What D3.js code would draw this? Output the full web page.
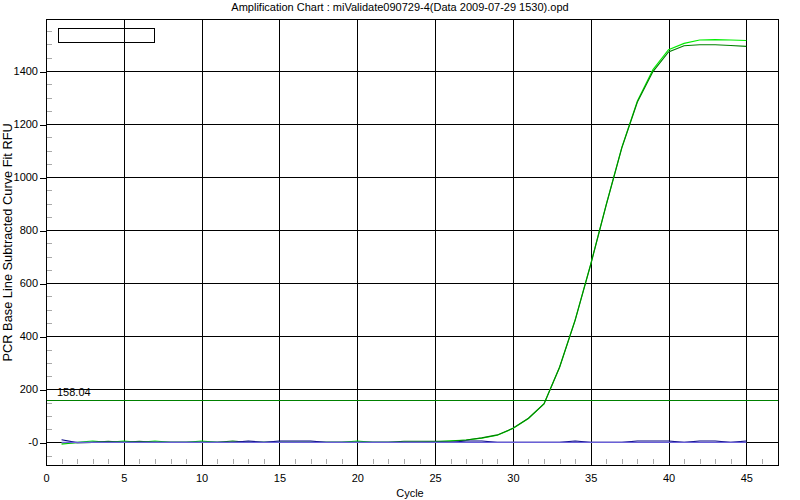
<!DOCTYPE html>
<html><head><meta charset="utf-8">
<script src="https://cdn.jsdelivr.net/npm/d3@7"></script>
<style>
body{margin:0;background:#fff}
svg text{font-family:"Liberation Sans",Arial,sans-serif;fill:#000}
</style></head>
<body><svg id="c" width="800" height="500"></svg>
<script>
const title = "Amplification Chart : miValidate090729-4(Data 2009-07-29 1530).opd";
const xLabel = "Cycle";
const yLabel = "PCR Base Line Subtracted Curve Fit RFU";
const cycles = d3.range(1, 46);
const xTicks = [0, 5, 10, 15, 20, 25, 30, 35, 40, 45];
const yTicks = [0, 200, 400, 600, 800, 1000, 1200, 1400];
const threshold = 158.04;
const lightGreen = [-7,0,5,0,5,0,5,0,0,5,0,0,0,0,0,0,0,0,0,5,0,0,0,0,2,6,9,16,27,52,90,146,283,462,672,897,1112,1287,1405,1480,1504,1517,1518,1517,1515];
const darkGreen  = [-2,-1,0,4,0,4,0,0,0,0,0,5,0,0,0,0,0,0,0,0,0,0,4,4,4,4,9,17,28,53,91,145,283,460,670,895,1110,1283,1398,1472,1495,1499,1499,1496,1493];
const navy       = [10,-1,0,0,0,0,0,0,0,0,0,0,5,0,5,5,5,0,0,0,0,0,0,0,0,0,5,5,0,0,0,0,0,5,0,0,0,5,5,5,0,5,5,0,5];
const slate      = [0,0,0,0,0,0,0,0,0,0,0,0,0,0,0,0,0,0,0,0,0,0,0,0,0,0,0,0,0,0,0,0,0,0,0,0,0,0,0,0,0,0,0,0,0];

const L = 46, R = 778.7, T = 19, B = 465.7;
const svg = d3.select("#c");
const x = d3.scaleLinear().domain([0, 47.08]).range([L, R]);
const y = d3.scaleLinear().domain([-88, 1596]).range([B, T]);

svg.append("rect").attr("width", 800).attr("height", 500).attr("fill", "#fff");

// title
svg.append("text").attr("x", 400).attr("y", 11).attr("text-anchor", "middle")
  .attr("font-size", 11).text(title);

// minor ticks (gray, inside)
const g = svg.append("g").attr("shape-rendering", "crispEdges");
g.selectAll(".ymin").data(d3.range(-50, 1596, 50).filter(v => v % 200 !== 0))
  .join("line").attr("x1", L + 1).attr("x2", L + 6)
  .attr("y1", d => Math.round(y(d)) + 0.5).attr("y2", d => Math.round(y(d)) + 0.5)
  .attr("stroke", "#aaa");
g.selectAll(".xmin").data(d3.range(1, 47).filter(c => c % 5 !== 0))
  .join("line").attr("y1", B - 7).attr("y2", B - 2)
  .attr("x1", d => Math.round(x(d)) + 0.5).attr("x2", d => Math.round(x(d)) + 0.5)
  .attr("stroke", "#aaa");

// gridlines
g.selectAll(".vg").data(xTicks.filter(d => d > 0)).join("line")
  .attr("x1", d => Math.round(x(d)) + 0.5).attr("x2", d => Math.round(x(d)) + 0.5)
  .attr("y1", T).attr("y2", B).attr("stroke", "#000");
g.selectAll(".hg").data(yTicks).join("line")
  .attr("y1", d => Math.round(y(d)) + 0.5).attr("y2", d => Math.round(y(d)) + 0.5)
  .attr("x1", L).attr("x2", R).attr("stroke", "#000");

// axes
const ya = svg.append("g").attr("transform", `translate(${L},0)`)
  .call(d3.axisLeft(y).tickValues(yTicks).tickSize(6).tickPadding(2)
    .tickFormat(d => d === 0 ? "-0" : d));
ya.select(".domain").remove();
ya.selectAll("line").attr("shape-rendering", "crispEdges")
  .attr("transform", function(d){ return `translate(0,${Math.round(y(d)) + 0.5 - y(d)})`; });
ya.selectAll("text").attr("font-size", 11).attr("font-family", null);

const xa = svg.append("g").attr("transform", `translate(0,${B})`)
  .call(d3.axisBottom(x).tickValues(xTicks).tickSize(0).tickPadding(9).tickFormat(d3.format("d")));
xa.select(".domain").remove();
xa.selectAll("text").attr("font-size", 11).attr("font-family", null);

// threshold
svg.append("line").attr("x1", L).attr("x2", R)
  .attr("y1", Math.round(y(threshold)) + 0.5).attr("y2", Math.round(y(threshold)) + 0.5)
  .attr("stroke", "#008000").attr("shape-rendering", "crispEdges");
svg.append("text").attr("x", 57).attr("y", y(threshold) - 4).attr("font-size", 11)
  .text(d3.format(".2f")(threshold));

// series
const line = d3.line().x((d, i) => x(cycles[i])).y(d => y(d));
const series = [
  {v: lightGreen, c: "#00ee00"},
  {v: darkGreen, c: "#008000"},
  {v: navy, c: "#000080"},
  {v: slate, c: "#6a5fd8"}
];
svg.selectAll(".s").data(series).join("path")
  .attr("d", d => line(d.v)).attr("fill", "none")
  .attr("stroke", d => d.c).attr("stroke-width", 1.15);

// border
svg.append("rect").attr("x", L + 0.5).attr("y", T + 0.5).attr("width", R - L - 1).attr("height", B - T - 1)
  .attr("fill", "none").attr("stroke", "#000").attr("shape-rendering", "crispEdges");

// legend box (empty)
svg.append("rect").attr("x", 58.5).attr("y", 28.5).attr("width", 96).attr("height", 14)
  .attr("fill", "none").attr("stroke", "#000").attr("shape-rendering", "crispEdges");

// axis titles
svg.append("text").attr("x", 410).attr("y", 497).attr("text-anchor", "middle")
  .attr("font-size", 11).text(xLabel);
svg.append("text").attr("transform", `translate(12,${(T + B) / 2}) rotate(-90)`)
  .attr("text-anchor", "middle").attr("font-size", 12.8).text(yLabel);
</script></body></html>
